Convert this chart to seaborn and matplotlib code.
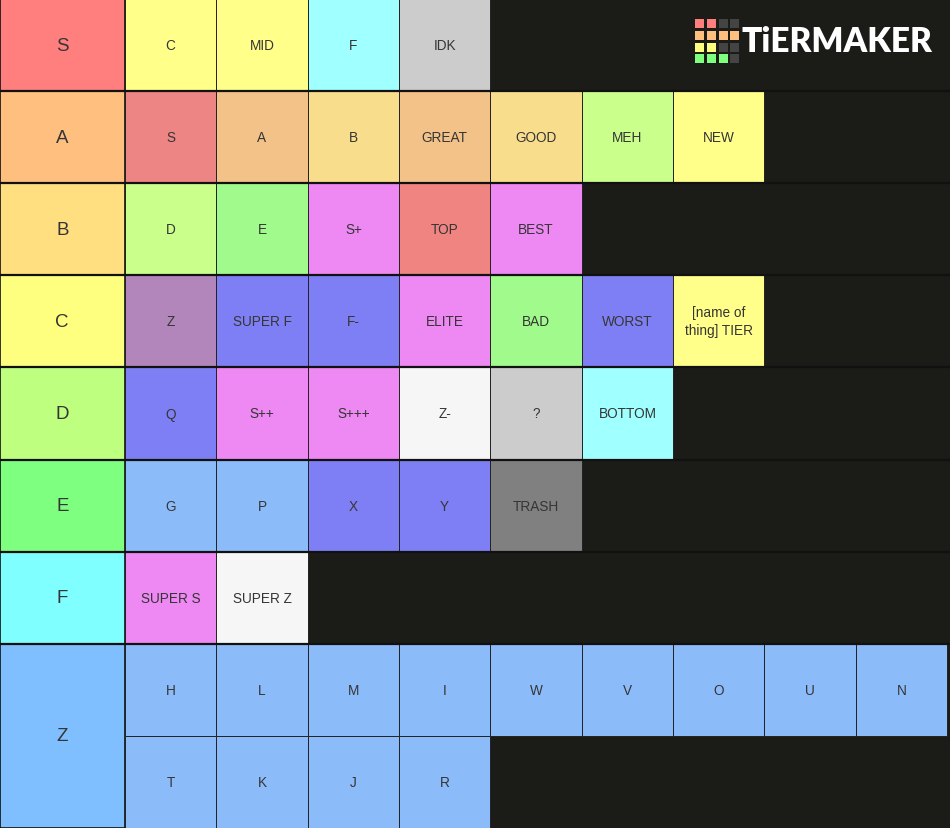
import matplotlib
matplotlib.use("Agg")
import matplotlib.pyplot as plt
import seaborn as sns

sns.set_theme(style="white")
plt.rcParams['font.family'] = ['Liberation Sans', 'DejaVu Sans']

# ---- data ----
tiers = ["S", "A", "B", "C", "D", "E", "F", "Z"]
tier_colors = ["#ff7f7f", "#ffbf7f", "#ffdf7f", "#ffff7f",
               "#bfff7f", "#7fff7f", "#7fffff", "#7fbfff"]

items_S = ["C", "MID", "F", "IDK"]
colors_S = ["#ffff8a", "#ffff8a", "#a0ffff", "#cccccc"]
items_A = ["S", "A", "B", "GREAT", "GOOD", "MEH", "NEW"]
colors_A = ["#ee8585", "#f2c288", "#f8de8c", "#f2c288", "#f8de8c", "#cbff8c", "#ffff8a"]
items_B = ["D", "E", "S+", "TOP", "BEST"]
colors_B = ["#cbff8c", "#a0fb8c", "#ee88f2", "#ef8481", "#ee88f2"]
items_C = ["Z", "SUPER F", "F-", "ELITE", "BAD", "WORST", "[name of\nthing] TIER"]
colors_C = ["#b286bb", "#7f7ff5", "#7f7ff5", "#ee88f2", "#a0fb8c", "#7f7ff5", "#ffff8a"]
items_D = ["Q", "S++", "S+++", "Z-", "?", "BOTTOM"]
colors_D = ["#7f7ff5", "#ee88f2", "#ee88f2", "#f6f6f6", "#cccccc", "#a0ffff"]
items_E = ["G", "P", "X", "Y", "TRASH"]
colors_E = ["#8cbbfa", "#8cbbfa", "#7f7ff5", "#7f7ff5", "#808080"]
items_F = ["SUPER S", "SUPER Z"]
colors_F = ["#ee88f2", "#f6f6f6"]
items_Z1 = ["H", "L", "M", "I", "W", "V", "O", "U", "N"]
items_Z2 = ["T", "K", "J", "R"]
color_Z = "#8cbbfa"

rows = [
    [(items_S, colors_S)],
    [(items_A, colors_A)],
    [(items_B, colors_B)],
    [(items_C, colors_C)],
    [(items_D, colors_D)],
    [(items_E, colors_E)],
    [(items_F, colors_F)],
    [(items_Z1, [color_Z] * len(items_Z1)), (items_Z2, [color_Z] * len(items_Z2))],
]

logo_colors = [
    ["#ff7f7f", "#ff7f7f", "#444444", "#444444"],
    ["#ffbf7f", "#ffbf7f", "#ffbf7f", "#ffbf7f"],
    ["#ffff7f", "#ffff7f", "#444444", "#444444"],
    ["#7fff7f", "#7fff7f", "#7fff7f", "#444444"],
]
logo_text = "TiERMAKER"

# ---- layout ----
W, H = 950, 829
bg = "#1b1b17"
label_w = 124.5
cell_w = 91.35
unit_h = H / 9.0

fig = plt.figure(figsize=(W / 100, H / 100), dpi=100)
fig.patch.set_facecolor(bg)
ax = fig.add_axes([0, 0, 1, 1])
ax.set_facecolor(bg)
ax.set_xlim(0, W)
ax.set_ylim(H, 0)
ax.axis("off")

txt_color = "#353535"
sub = 0
for r, (tier, tcol, subrows) in enumerate(zip(tiers, tier_colors, rows)):
    top = sub * unit_h
    n_sub = len(subrows)
    ax.bar(0, n_sub * unit_h, bottom=top, width=label_w, align="edge",
           color=tcol, edgecolor="#111111", linewidth=1.2)
    ax.text(label_w / 2, top + n_sub * unit_h / 2, tier, ha="center", va="center",
            fontsize=13.5, color=txt_color)
    for k, (names, cols) in enumerate(subrows):
        stop = top + k * unit_h
        lefts = [label_w + 0.5 + j * cell_w for j in range(len(names))]
        ax.bar(lefts, [unit_h] * len(names), bottom=stop, width=cell_w, align="edge",
               color=cols, edgecolor="#222222", linewidth=0.7)
        for x0, name in zip(lefts, names):
            ax.text(x0 + cell_w / 2, stop + unit_h / 2, name, ha="center", va="center",
                    fontsize=9.8, color=txt_color, linespacing=1.35)
    sub += n_sub

# row separators
for i in range(1, 8):
    ax.axhline(i * unit_h, color="#111111", linewidth=1.6)

# ---- logo ----
sq = 9.0
gap = 2.8
lx0, ly0 = 695, 20
for i, rowc in enumerate(logo_colors):
    for j, c in enumerate(rowc):
        ax.bar(lx0 + j * (sq + gap), sq, bottom=ly0 + i * (sq + gap), width=sq,
               align="edge", color=c, linewidth=0)
ax.text(742, 42, logo_text, ha="left", va="center", color="white",
        fontsize=24, fontweight="heavy",
        family=["Lato", "DejaVu Sans"])

fig.savefig("out.png", dpi=100, facecolor=bg)
